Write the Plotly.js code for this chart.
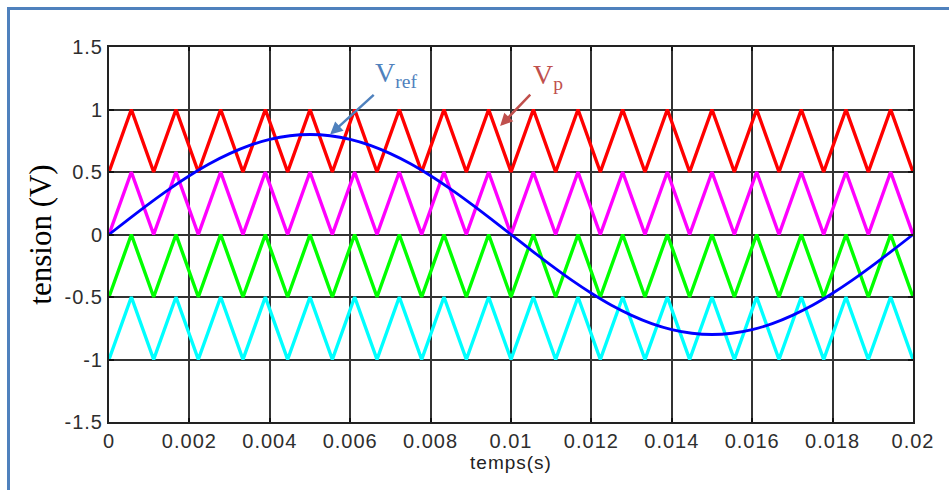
<!DOCTYPE html>
<html>
<head>
<meta charset="utf-8">
<script src="https://cdn.plot.ly/plotly-3.0.1.min.js"></script>
<style>
  html, body { margin: 0; padding: 0; background: #fff; }
  #wrap { position: relative; width: 949px; height: 490px; overflow: hidden; }
  #chart { width: 949px; height: 490px; }
  #frame { position: absolute; left: 7px; top: 7px; width: 960px; height: 500px;
           border-top: 3px solid #4f81bd; border-left: 3px solid #4f81bd; pointer-events: none; }
  .xtick text, .ytick text { letter-spacing: 1px; }
  .g-xtitle text { letter-spacing: 1px; }
</style>
</head>
<body>
<div id="wrap">
  <div id="chart"></div>
  <div id="frame"></div>
</div>
<script>
// Carrier vertex times (s): 18 periods over 0.02 s
const tCarrier = [0, 0.000556, 0.001111, 0.001667, 0.002222, 0.002778, 0.003333, 0.003889,
  0.004444, 0.005, 0.005556, 0.006111, 0.006667, 0.007222, 0.007778, 0.008333, 0.008889,
  0.009444, 0.01, 0.010556, 0.011111, 0.011667, 0.012222, 0.012778, 0.013333, 0.013889,
  0.014444, 0.015, 0.015556, 0.016111, 0.016667, 0.017222, 0.017778, 0.018333, 0.018889,
  0.019444, 0.02];
const vRed = [0.5,1,0.5,1,0.5,1,0.5,1,0.5,1,0.5,1,0.5,1,0.5,1,0.5,1,0.5,1,0.5,1,0.5,1,0.5,1,0.5,1,0.5,1,0.5,1,0.5,1,0.5,1,0.5];
const vMagenta = [0,0.5,0,0.5,0,0.5,0,0.5,0,0.5,0,0.5,0,0.5,0,0.5,0,0.5,0,0.5,0,0.5,0,0.5,0,0.5,0,0.5,0,0.5,0,0.5,0,0.5,0,0.5,0];
const vGreen = [-0.5,0,-0.5,0,-0.5,0,-0.5,0,-0.5,0,-0.5,0,-0.5,0,-0.5,0,-0.5,0,-0.5,0,-0.5,0,-0.5,0,-0.5,0,-0.5,0,-0.5,0,-0.5,0,-0.5,0,-0.5,0,-0.5];
const vCyan = [-1,-0.5,-1,-0.5,-1,-0.5,-1,-0.5,-1,-0.5,-1,-0.5,-1,-0.5,-1,-0.5,-1,-0.5,-1,-0.5,-1,-0.5,-1,-0.5,-1,-0.5,-1,-0.5,-1,-0.5,-1,-0.5,-1,-0.5,-1,-0.5,-1];

// Reference sine (Vref)
const tRef = [0, 0.0005, 0.001, 0.0015, 0.002, 0.0025, 0.003, 0.0035, 0.004, 0.0045, 0.005,
  0.0055, 0.006, 0.0065, 0.007, 0.0075, 0.008, 0.0085, 0.009, 0.0095, 0.01,
  0.0105, 0.011, 0.0115, 0.012, 0.0125, 0.013, 0.0135, 0.014, 0.0145, 0.015,
  0.0155, 0.016, 0.0165, 0.017, 0.0175, 0.018, 0.0185, 0.019, 0.0195, 0.02];
const vRef = [0, 0.125, 0.247, 0.363, 0.470, 0.566, 0.647, 0.713, 0.761, 0.790, 0.8,
  0.790, 0.761, 0.713, 0.647, 0.566, 0.470, 0.363, 0.247, 0.125, 0,
  -0.125, -0.247, -0.363, -0.470, -0.566, -0.647, -0.713, -0.761, -0.790, -0.8,
  -0.790, -0.761, -0.713, -0.647, -0.566, -0.470, -0.363, -0.247, -0.125, 0];

const xTicks = [0, 0.002, 0.004, 0.006, 0.008, 0.01, 0.012, 0.014, 0.016, 0.018, 0.02];
const xTickText = ['0', '0.002', '0.004', '0.006', '0.008', '0.01', '0.012', '0.014', '0.016', '0.018', '0.02'];
const yTicks = [-1.5, -1, -0.5, 0, 0.5, 1, 1.5];
const yTickText = ['-1.5', '-1', '-0.5', '0', '0.5', '1', '1.5'];

const carrierLine = (c) => ({ color: c, width: 3.4 });
const traces = [
  { x: tCarrier, y: vRed, mode: 'lines', line: carrierLine('#ff0000'), name: 'Vp1' },
  { x: tCarrier, y: vMagenta, mode: 'lines', line: carrierLine('#ff00ff'), name: 'Vp2' },
  { x: tCarrier, y: vGreen, mode: 'lines', line: carrierLine('#00ff00'), name: 'Vp3' },
  { x: tCarrier, y: vCyan, mode: 'lines', line: carrierLine('#00ffff'), name: 'Vp4' },
  { x: tRef, y: vRef, mode: 'lines', line: { color: '#0000ff', width: 2.8, shape: 'spline' }, name: 'Vref' }
];

const tickFont = { family: 'Liberation Sans, Arial, sans-serif', size: 20, color: '#2e2e2e' };

const layout = {
  width: 949, height: 490,
  margin: { l: 109, r: 36, t: 47, b: 68 },
  paper_bgcolor: '#ffffff', plot_bgcolor: '#ffffff',
  showlegend: false,
  xaxis: {
    range: [0, 0.02], tickvals: xTicks, ticktext: xTickText,
    showgrid: true, gridcolor: '#333333', gridwidth: 2,
    zeroline: false, showline: true, linecolor: '#222222', linewidth: 2, mirror: 'ticks',
    ticks: 'inside', ticklen: 4, tickwidth: 2, tickcolor: '#111',
    tickfont: tickFont,
    title: { text: 'temps(s)', font: { family: 'Liberation Sans, Arial, sans-serif', size: 19, color: '#222' }, standoff: 5 },
    automargin: false
  },
  yaxis: {
    range: [-1.5, 1.5], tickvals: yTicks, ticktext: yTickText,
    showgrid: true, gridcolor: '#333333', gridwidth: 2,
    zeroline: false, showline: true, linecolor: '#222222', linewidth: 2, mirror: 'ticks',
    ticks: 'inside', ticklen: 5, tickwidth: 2, tickcolor: '#111',
    tickfont: tickFont,
    title: { text: 'tension (V)', font: { family: 'Liberation Serif, Times New Roman, serif', size: 31, color: '#000' }, standoff: 4 },
    automargin: false
  },
  annotations: [
    { xref: 'x', yref: 'y', x: 0.0055, y: 0.8, text: 'V<sub>ref</sub>', showarrow: true,
      ax: 66, ay: -60, startstandoff: 2, arrowcolor: '#4f81bd', arrowwidth: 2.5, arrowhead: 2, arrowsize: 1,
      font: { family: 'Liberation Serif, Times New Roman, serif', size: 28, color: '#4f81bd' } },
    { xref: 'x', yref: 'y', x: 0.00973, y: 0.868, text: 'V<sub>p</sub>', showarrow: true,
      ax: 48, ay: -50, startstandoff: 2, arrowcolor: '#c0504d', arrowwidth: 2.5, arrowhead: 2, arrowsize: 1,
      font: { family: 'Liberation Serif, Times New Roman, serif', size: 28, color: '#c0504d' } }
  ]
};

Plotly.newPlot('chart', traces, layout, { displayModeBar: false, staticPlot: true });
</script>
</body>
</html>
